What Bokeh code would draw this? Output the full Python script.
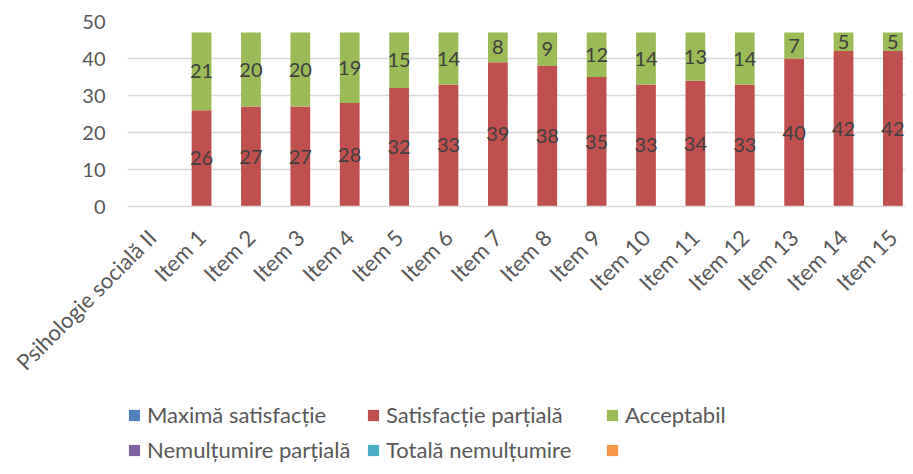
from bokeh.plotting import figure
from bokeh.layouts import column
from bokeh.models import (ColumnDataSource, Range1d, FixedTicker, Legend, LegendItem)
from bokeh.core.properties import value
from bokeh.embed import file_html
from bokeh.resources import INLINE
import math

categories = ["Psihologie socială II"] + [f"Item {i}" for i in range(1, 16)]
series_names = ["Maximă satisfacție", "Satisfacție parțială", "Acceptabil",
                "Nemulțumire parțială", "Totală nemulțumire", ""]
series_colors = ["#4F81BD", "#C0504D", "#9BBB59", "#8064A2", "#4BACC6", "#F79646"]

maxima = [0] * 16
partiala = [0, 26, 27, 27, 28, 32, 33, 39, 38, 35, 33, 34, 33, 40, 42, 42]
acceptabil = [0, 21, 20, 20, 19, 15, 14, 8, 9, 12, 14, 13, 14, 7, 5, 5]
nemultumire = [0] * 16
totala = [0] * 16
extra = [0] * 16

FONT = "Lato"
TXT = "#595959"

xs = list(range(len(categories)))
keys = ["s0", "s1", "s2", "s3", "s4", "s5"]
data = dict(x=xs, s0=maxima, s1=partiala, s2=acceptabil, s3=nemultumire, s4=totala, s5=extra)
src = ColumnDataSource(data)

p = figure(width=905, height=392, output_backend="svg", toolbar_location=None,
           x_range=Range1d(-0.5, 15.255), y_range=Range1d(0, 50),
           min_border_left=127, min_border_right=0, min_border_top=21, min_border_bottom=186)
p.outline_line_color = None
p.background_fill_color = "white"
p.border_fill_color = "white"

renderers = p.vbar_stack(keys, x="x", width=0.4, source=src, color=series_colors,
                         line_color=None)

# data labels (centered in segments), only non-zero values
lx, ly, lt = [], [], []
for i in xs:
    base = maxima[i]
    for vals in (partiala, acceptabil):
        v = vals[i]
        if v:
            lx.append(i)
            ly.append(base + v / 2)
            lt.append(str(v))
        base += v
lsrc = ColumnDataSource(dict(x=lx, y=ly, t=lt))
p.text(x="x", y="y", text="t", source=lsrc, text_align="center", text_baseline="middle",
       text_font=value(FONT), text_font_size="20px", text_color="#404040")

# axes
p.yaxis.ticker = FixedTicker(ticks=[0, 10, 20, 30, 40, 50])
p.yaxis.axis_line_color = None
p.yaxis.major_tick_line_color = None
p.yaxis.minor_tick_line_color = None
p.yaxis.major_label_text_font = FONT
p.yaxis.major_label_text_font_size = "20px"
p.yaxis.major_label_text_color = TXT
p.yaxis.major_label_standoff = 16

p.xaxis.ticker = FixedTicker(ticks=xs)
p.xaxis.major_label_overrides = {i: c for i, c in enumerate(categories)}
p.xaxis.major_label_orientation = math.pi / 4
p.xaxis.axis_line_color = "#D9D9D9"
p.xaxis.axis_line_width = 1.5
p.xaxis.major_tick_line_color = None
p.xaxis.minor_tick_line_color = None
p.xaxis.major_label_text_font = FONT
p.xaxis.major_label_text_font_size = "22px"
p.xaxis.major_label_text_color = TXT
p.xaxis.major_label_standoff = 21

p.xgrid.grid_line_color = None
p.ygrid.grid_line_color = "#D9D9D9"
p.ygrid.grid_line_width = 1.5

# legend in its own strip below the chart
lg = figure(width=905, height=74, output_backend="svg", toolbar_location=None,
            x_axis_type=None, y_axis_type=None, x_range=Range1d(0, 1), y_range=Range1d(0, 1),
            min_border=0)
lg.outline_line_color = None
lg.grid.grid_line_color = None
# placeholder (zero-height) renderers that only carry the legend swatches
dummies = [lg.vbar(x=[0], top=[0], bottom=[0], width=0, fill_color=c, line_color=None)
           for c in series_colors]
items = [LegendItem(label=n, renderers=[r]) for n, r in zip(series_names, dummies)]


def make_legend(its, vy):
    return Legend(items=its, location=(0, vy), orientation="horizontal",
                  label_text_font=FONT, label_text_font_size="22px", label_text_color=TXT,
                  glyph_width=14, glyph_height=14, label_standoff=6, label_width=210,
                  spacing=9, padding=0, margin=0, border_line_color=None,
                  background_fill_alpha=0)


lg.add_layout(make_legend(items[:3], 38))
lg.add_layout(make_legend(items[3:], 3))

open("out.html", "w").write(file_html(column(p, lg, spacing=0), INLINE))
